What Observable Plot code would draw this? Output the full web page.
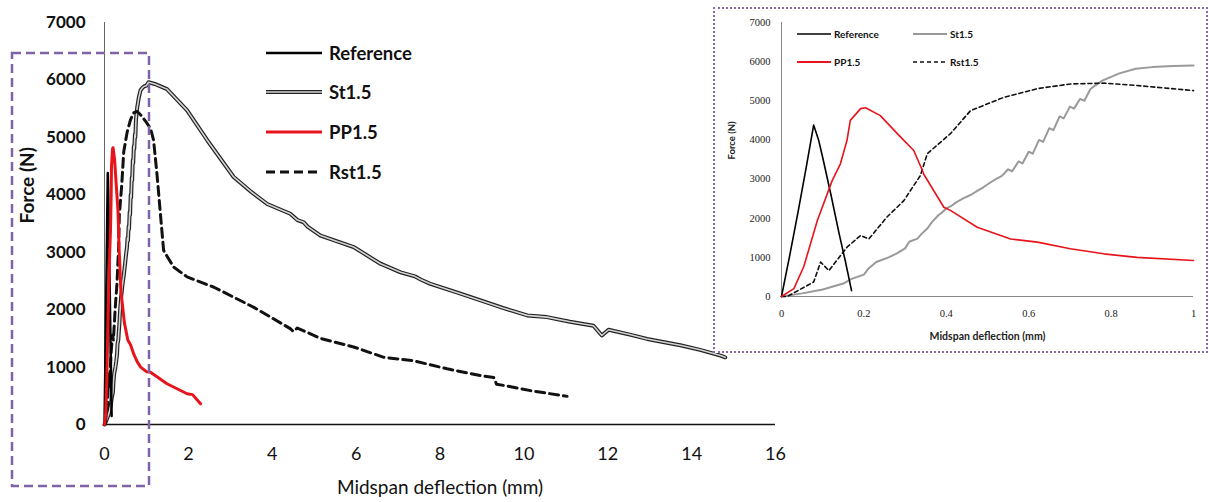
<!DOCTYPE html>
<html><head><meta charset="utf-8">
<script src="https://cdn.jsdelivr.net/npm/d3@7"></script>
<script src="https://cdn.jsdelivr.net/npm/@observablehq/plot@0.6"></script>
<style>
html,body{margin:0;padding:0;background:#fff;}
#wrap{position:relative;width:1209px;height:502px;overflow:hidden;font-family:Lato,"Open Sans",sans-serif;}
#wrap > svg{position:absolute;left:0;top:0;}
#box{position:absolute;left:0;top:0;pointer-events:none;}
#inset{position:absolute;left:713px;top:7px;width:491px;height:342px;border:2px dotted #8a68b0;background:#fff;}
#inset svg{position:absolute;left:0;top:0;}
.leg{position:absolute;display:flex;align-items:center;font-weight:bold;color:#111;white-space:nowrap;}
.leg svg{display:block;}
</style></head><body><div id="wrap"></div>
<script>
// ---------- data ----------
const seriesNames = ["Reference", "St1.5", "PP1.5", "Rst1.5"];
const xTicksMain = [0, 2, 4, 6, 8, 10, 12, 14, 16];
const xTicksInset = [0, 0.2, 0.4, 0.6, 0.8, 1];
const yTicks = [0, 1000, 2000, 3000, 4000, 5000, 6000, 7000];

// [midspan deflection (mm), force (N)]
const reference = [[0,0],[0.02,1050],[0.04,2150],[0.06,3300],[0.078,4380],[0.09,4000],[0.1,3550],[0.12,2600],[0.14,1600],[0.155,900],[0.17,150]];

const st15 = [[0,0],[0.05,80],[0.1,180],[0.15,330],[0.17,450],[0.2,560],[0.21,700],[0.23,880],[0.26,1000],[0.28,1100],[0.3,1230],[0.31,1400],[0.33,1480],[0.34,1600],[0.355,1750],[0.365,1900],[0.38,2070],[0.39,2150],[0.4,2250],[0.41,2300],[0.425,2410],[0.44,2500],[0.46,2600],[0.475,2700],[0.49,2790],[0.505,2900],[0.52,3000],[0.535,3080],[0.55,3250],[0.56,3200],[0.575,3450],[0.585,3400],[0.6,3700],[0.61,3650],[0.625,4000],[0.635,3950],[0.65,4300],[0.66,4250],[0.675,4600],[0.685,4550],[0.7,4850],[0.71,4800],[0.725,5050],[0.735,5000],[0.75,5300],[0.76,5380],[0.78,5520],[0.82,5700],[0.86,5820],[0.9,5860],[0.95,5890],[1.0,5900],
  [1.05,5960],[1.2,5930],[1.49,5840],[1.97,5470],[2.45,4950],[3.08,4310],[3.5,4050],[3.88,3840],[4.43,3670],[4.6,3560],[4.75,3520],[4.85,3440],[5.15,3290],[5.5,3200],[5.94,3090],[6.58,2800],[7.06,2650],[7.4,2580],[7.55,2520],[7.77,2450],[8.4,2300],[8.97,2160],[9.5,2030],[10.08,1900],[10.55,1870],[11.1,1790],[11.66,1720],[11.86,1550],[12.02,1650],[12.5,1570],[12.94,1490],[13.73,1380],[14.2,1300],[14.69,1200],[14.8,1170]];

const pp15 = [[0,0],[0.03,200],[0.054,760],[0.087,1940],[0.123,2960],[0.143,3390],[0.159,3990],[0.167,4500],[0.192,4800],[0.204,4820],[0.24,4620],[0.281,4160],[0.321,3730],[0.342,3220],[0.345,3130],[0.394,2280],[0.41,2200],[0.475,1770],[0.556,1470],[0.621,1390],[0.701,1220],[0.782,1090],[0.863,1000],[1.0,920],
  [1.097,910],[1.49,710],[1.97,535],[2.1,520],[2.29,360]];

const rst15 = [[0,0],[0.014,0],[0.078,370],[0.095,880],[0.115,660],[0.159,1260],[0.192,1560],[0.212,1470],[0.256,2030],[0.297,2450],[0.337,3090],[0.354,3650],[0.41,4160],[0.459,4750],[0.54,5090],[0.621,5310],[0.701,5430],[0.782,5450],[0.863,5390],[1.0,5260],
  [1.1,5150],[1.17,4950],[1.25,4370],[1.34,3610],[1.41,3030],[1.65,2740],[1.97,2570],[2.61,2390],[3.56,2040],[4.43,1670],[4.5,1620],[4.6,1680],[5.15,1500],[5.94,1350],[6.66,1170],[7.37,1110],[8.17,970],[8.97,850],[9.28,820],[9.35,700],[9.52,680],[10.16,590],[11.03,490]];

// ---------- helpers ----------
const X = d => d[0], Y = d => d[1];
const fmt = d => String(d);
const inRange = arr => arr.filter(d => d[0] <= 1);
const RED = "#e8141b";

const wrap = document.getElementById("wrap");

// ---------- main chart ----------
const main = Plot.plot({
  width: 1209, height: 502,
  marginLeft: 104, marginRight: 434, marginTop: 22, marginBottom: 78,
  x: {domain: [0, 16]},
  y: {domain: [0, 7000]},
  style: {fontFamily: "Lato, sans-serif", color: "#111", background: "transparent", overflow: "visible"},
  marks: [
    Plot.axisY({ticks: yTicks, tickSize: 0, tickPadding: 19, fontSize: 17, fontWeight: "bold", tickFormat: fmt, label: null}),
    Plot.axisX({ticks: xTicksMain, tickSize: 0, tickPadding: 23, fontSize: 18, tickFormat: fmt, label: null}),
    Plot.text(["Force (N)"], {text: d => d, frameAnchor: "left", dx: -77, rotate: -90, fontSize: 19, fontWeight: "bold"}),
    Plot.text(["Midspan deflection (mm)"], {text: d => d, frameAnchor: "bottom", dy: 69, fontSize: 19}),
    Plot.ruleX([0], {stroke: "#666", strokeWidth: 1}),
    Plot.ruleY([0], {stroke: "#111", strokeWidth: 1.5}),
    Plot.line(st15, {x: X, y: Y, stroke: "#222", strokeWidth: 4}),
    Plot.line(st15, {x: X, y: Y, stroke: "#d4d4d4", strokeWidth: 1.6}),
    Plot.line(rst15, {x: X, y: Y, stroke: "#111", strokeWidth: 3, strokeDasharray: "9,5"}),
    Plot.line(reference, {x: X, y: Y, stroke: "#000", strokeWidth: 2.5}),
    Plot.line(pp15, {x: X, y: Y, stroke: RED, strokeWidth: 3})
  ]
});
wrap.appendChild(main);

// purple dashed highlight box (annotation)
const box = document.createElementNS("http://www.w3.org/2000/svg", "svg");
box.setAttribute("id", "box");
box.setAttribute("width", 1209); box.setAttribute("height", 502);
box.innerHTML = '<rect x="12" y="53" width="137" height="433" fill="none" stroke="#7f63a8" stroke-width="2.5" stroke-dasharray="9,5"/>';
wrap.appendChild(box);

// ---------- legends ----------
function sample(w, strokes) {
  let s = `<svg width="${w}" height="12">`;
  for (const st of strokes) {
    s += `<line x1="0" y1="6" x2="${w}" y2="6" stroke="${st.c}" stroke-width="${st.w}"${st.d ? ` stroke-dasharray="${st.d}"` : ""}/>`;
  }
  return s + "</svg>";
}
function legendItem(left, cy, name, strokes, w, fs, gap, extra) {
  const div = document.createElement("div");
  div.className = "leg";
  div.style.left = left + "px";
  div.style.top = (cy - 12) + "px";
  div.style.height = "24px";
  div.style.fontSize = fs + "px";
  if (extra) Object.assign(div.style, extra);
  div.innerHTML = sample(w, strokes) + `<span style="margin-left:${gap}px">${name}</span>`;
  wrap.appendChild(div);
}
const mainStyles = [
  [{c: "#000", w: 2.5}],
  [{c: "#222", w: 4}, {c: "#d4d4d4", w: 1.6}],
  [{c: RED, w: 3}],
  [{c: "#111", w: 3, d: "9,5"}]
];
const mainRows = [53, 92, 132, 172];
seriesNames.forEach((n, i) => legendItem(266, mainRows[i], n, mainStyles[i], 56, 18.5, 7));

// ---------- inset chart ----------
const insetDiv = document.createElement("div");
insetDiv.id = "inset";
wrap.appendChild(insetDiv);

const inset = Plot.plot({
  width: 491, height: 342,
  marginLeft: 66, marginRight: 13, marginTop: 13, marginBottom: 55,
  x: {domain: [0, 1]},
  y: {domain: [0, 7000]},
  style: {fontFamily: "'Liberation Serif', serif", color: "#222", background: "transparent", overflow: "visible"},
  marks: [
    Plot.axisY({ticks: yTicks, tickSize: 0, tickPadding: 11, fontSize: 10.5, tickFormat: fmt, label: null}),
    Plot.axisX({ticks: xTicksInset, tickSize: 0, tickPadding: 13, fontSize: 10.5, tickFormat: fmt, label: null}),
    Plot.text(["Force (N)"], {text: d => d, frameAnchor: "left", dx: -50, rotate: -90, fontSize: 9.5, fontWeight: "bold", fontFamily: "Lato, sans-serif"}),
    Plot.text(["Midspan deflection (mm)"], {text: d => d, frameAnchor: "bottom", dy: 43, fontSize: 10.5, fontWeight: "bold", fontFamily: "Lato, sans-serif"}),
    Plot.ruleX([0], {stroke: "#888", strokeWidth: 1}),
    Plot.ruleY([0], {stroke: "#888", strokeWidth: 1}),
    Plot.line(inRange(st15), {x: X, y: Y, stroke: "#999", strokeWidth: 2}),
    Plot.line(inRange(rst15), {x: X, y: Y, stroke: "#111", strokeWidth: 1.6, strokeDasharray: "4,3"}),
    Plot.line(inRange(reference), {x: X, y: Y, stroke: "#000", strokeWidth: 1.6}),
    Plot.line(inRange(pp15), {x: X, y: Y, stroke: RED, strokeWidth: 1.6})
  ]
});
insetDiv.appendChild(inset);

const insetStyles = [
  [{c: "#000", w: 1.6}],
  [{c: "#999", w: 2}],
  [{c: RED, w: 1.8}],
  [{c: "#111", w: 1.6, d: "4,3"}]
];
const insetPos = [[797, 34], [913, 34], [797, 62], [913, 62]];
seriesNames.forEach((n, i) => legendItem(insetPos[i][0], insetPos[i][1], n, insetStyles[i], 34, 10, 3, {fontFamily: "'Liberation Sans Narrow', Lato, sans-serif"}));
</script></body></html>
